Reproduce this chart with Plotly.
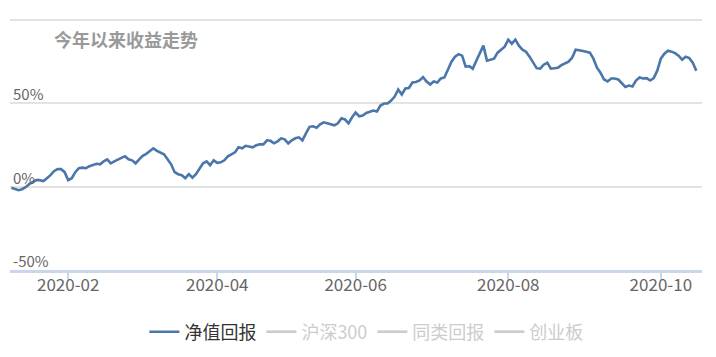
import pandas as pd
import plotly.graph_objects as go

# ---- data ----
HOLIDAYS = ["2020-01-24", "2020-01-27", "2020-01-28", "2020-01-29", "2020-01-30",
            "2020-01-31", "2020-04-06", "2020-05-01", "2020-05-04", "2020-05-05",
            "2020-06-25", "2020-06-26", "2020-10-01", "2020-10-02", "2020-10-05",
            "2020-10-06", "2020-10-07", "2020-10-08"]

NAV_RETURN = [
    -0.6, -1.2, -2.1, -1.5, -0.3, 1.5, 2.7, 3.9, 3.9, 3.3,
    5.1, 6.9, 9.3, 10.5, 10.5, 8.7, 3.9, 5.1, 8.7, 11.1,
    11.4, 11.1, 12.3, 12.9, 13.7, 13.4, 15.2, 16.4, 14.0, 15.2,
    16.4, 17.3, 18.2, 16.4, 15.8, 14.0, 16.4, 18.5, 19.7, 21.2,
    23.0, 21.5, 20.6, 19.4, 16.4, 13.4, 8.7, 7.5, 6.9, 5.1,
    7.5, 5.4, 7.5, 11.1, 14.0, 15.2, 12.9, 15.8, 14.3, 14.6,
    15.8, 18.2, 19.4, 20.6, 23.6, 23.0, 24.5, 24.2, 23.6, 24.8,
    25.4, 25.4, 27.8, 27.5, 26.0, 27.2, 29.0, 28.4, 26.0, 27.8,
    29.0, 29.6, 27.8, 32.0, 35.9, 36.2, 35.3, 37.4, 38.6, 38.0,
    37.4, 36.8, 38.0, 41.0, 40.3, 38.0, 41.6, 44.5, 42.2, 42.7,
    44.2, 45.1, 45.7, 45.1, 48.7, 49.9, 49.9, 51.7, 54.1, 58.3,
    55.3, 58.9, 59.2, 62.5, 62.8, 63.7, 65.7, 63.1, 61.3, 63.1,
    62.5, 64.9, 65.5, 70.2, 75.0, 78.0, 79.5, 78.6, 72.0, 72.3,
    70.8, 75.6, 80.4, 84.6, 75.6, 76.2, 76.8, 80.4, 82.2, 84.0,
    88.2, 85.8, 88.2, 84.6, 82.2, 81.0, 78.0, 74.4, 71.1, 70.8,
    73.2, 74.4, 70.8, 71.1, 71.4, 72.9, 73.8, 75.0, 77.4, 82.2,
    81.9, 81.6, 81.0, 80.4, 76.8, 71.4, 68.4, 64.3, 63.1, 64.9,
    64.9, 64.3, 61.9, 59.8, 60.7, 60.1, 63.7, 65.5, 64.9, 65.1,
    63.7, 65.1, 69.6, 76.8, 79.8, 81.6, 81.0, 80.1, 78.6, 76.2,
    78.0, 77.1, 74.4, 69.6,
]

TICK_MONTHS = ["2020-02", "2020-04", "2020-06", "2020-08", "2020-10"]
Y_TICKS = [-50, 0, 50, 100]
Y_TICK_TEXT = ["-50%", "0%", "50%", ""]
SERIES_NAMES = ["净值回报", "沪深300", "同类回报", "创业板"]
TITLE = "今年以来收益走势"

# trading-day categories
trade_days = pd.bdate_range("2020-01-02", "2020-12-31", freq="C", holidays=HOLIDAYS)
dates = [d.strftime("%Y-%m-%d") for d in trade_days][:len(NAV_RETURN)]
tickvals = [next(d for d in dates if d.startswith(m)) for m in TICK_MONTHS]

FONT = "Noto Sans CJK SC, Microsoft YaHei, sans-serif"

fig = go.Figure()
fig.add_trace(go.Scatter(
    x=dates, y=NAV_RETURN, mode="lines", name=SERIES_NAMES[0],
    line=dict(color="#4a76aa", width=2.6), hoverinfo="x+y"))
for nm in SERIES_NAMES[1:]:
    fig.add_trace(go.Scatter(
        x=dates[:1], y=[None], mode="lines",
        name=f"<span style='color:#9a9a9a'>{nm}</span>",
        line=dict(color="#9a9a9a", width=2.6), visible="legendonly"))

fig.add_annotation(
    text=f"<b>{TITLE}</b>", xref="paper", yref="paper",
    x=0.061, y=0.912, xanchor="left", yanchor="middle", showarrow=False,
    font=dict(family=FONT, size=18, color="#9a9a9a"))

# y-axis labels sitting just above their grid lines, inside the plot
for v, t in zip(Y_TICKS, Y_TICK_TEXT):
    if t:
        fig.add_annotation(
            text=t, xref="paper", yref="y", x=0, y=v, xanchor="left",
            yanchor="bottom", xshift=1, yshift=-3, showarrow=False,
            font=dict(family=FONT, size=15, color="#666666"))

fig.update_layout(
    width=716, height=357,
    margin=dict(l=10, r=14, t=17, b=87),
    paper_bgcolor="white", plot_bgcolor="white",
    font=dict(family=FONT, color="#666666"),
    showlegend=True,
    legend=dict(orientation="h", x=0.515, xanchor="center",
                yref="container", y=0.07, yanchor="middle",
                font=dict(family=FONT, size=18, color="#333333"),
                itemwidth=30),
    xaxis=dict(type="category", range=[-0.4, 194.6],
               tickmode="array", tickvals=tickvals, ticktext=TICK_MONTHS,
               showgrid=False, zeroline=False,
               showline=True, linecolor="#ccd6eb", linewidth=2.5,
               ticks="outside", ticklen=7, tickwidth=1.5, tickcolor="#ccd6eb",
               ticklabelstandoff=-9,
               tickfont=dict(family=FONT, size=17, color="#666666")),
    yaxis=dict(range=[-50, 101.8], tickmode="array", tickvals=Y_TICKS,
               showticklabels=False, showgrid=True, gridcolor="#e3e3e3",
               gridwidth=2, zeroline=False, showline=False),
)

fig.write_html("out.html")
